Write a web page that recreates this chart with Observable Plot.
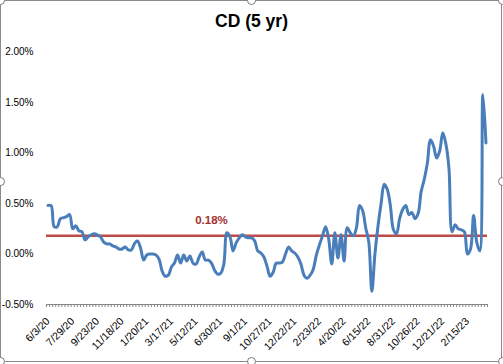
<!DOCTYPE html>
<html>
<head>
<meta charset="utf-8">
<script src="https://cdn.jsdelivr.net/npm/d3@7"></script>
<script src="https://cdn.jsdelivr.net/npm/@observablehq/plot@0.6"></script>
<style>
  html, body { margin: 0; padding: 0; background: #fff; }
  #wrap { position: relative; width: 503px; height: 364px; overflow: hidden; font-family: "Liberation Sans", Arial, sans-serif; }
  #title { position: absolute; left: 0; top: 11px; width: 503px; text-align: center; font-weight: bold; font-size: 17.5px; line-height: 20px; color: #000; }
  #chart { position: absolute; left: 0; top: 36px; }
  #frame { position: absolute; left: 0; top: 0; width: 500px; height: 360px; border: 1px solid #8a8a8a; pointer-events: none; }
  .h { position: absolute; width: 7px; height: 7px; border: 1px solid #7a7a7a; border-radius: 50%; background: #fff; }
</style>
</head>
<body>
<div id="wrap">
  <div id="title">CD (5 yr)</div>
  <div id="chart"></div>
  <div id="frame"></div>
  <div class="h" style="left:-4px;top:-4px"></div>
  <div class="h" style="left:247px;top:-4px"></div>
  <div class="h" style="left:498px;top:-4px"></div>
  <div class="h" style="left:-4px;top:177px"></div>
  <div class="h" style="left:498px;top:177px"></div>
  <div class="h" style="left:-4px;top:357px"></div>
  <div class="h" style="left:247px;top:357px"></div>
  <div class="h" style="left:498px;top:357px"></div>
</div>
<script>
// Weekly CD (5 yr) rate, in percent
const values = [
  0.48,0.48,0.27,0.27,0.35,0.36,0.37,0.39,0.25,0.28,
  0.23,0.22,0.14,0.17,0.19,0.20,0.19,0.17,0.12,0.10,
  0.10,0.08,0.07,0.05,0.05,0.07,0.04,0.04,0.10,0.13,
  0.06,-0.06,-0.01,0.00,0.00,-0.01,-0.05,-0.17,-0.22,-0.21,
  -0.13,-0.09,-0.01,-0.09,-0.01,-0.07,-0.02,-0.09,-0.10,-0.03,
  0.02,-0.06,-0.06,-0.09,-0.16,-0.20,-0.19,-0.10,0.21,0.17,
  0.03,0.11,0.16,0.19,0.17,0.16,0.16,0.13,0.03,0.01,
  -0.03,-0.12,-0.22,-0.18,-0.09,-0.09,-0.08,0.00,0.07,0.03,
  0.01,-0.03,-0.10,-0.21,-0.24,-0.21,-0.15,-0.01,0.09,0.18,
  0.27,0.15,-0.10,0.21,-0.04,0.19,-0.07,0.26,0.21,0.18,
  0.26,0.48,0.43,0.26,0.12,-0.37,0.00,0.28,0.50,0.69,
  0.64,0.48,0.24,0.20,0.35,0.44,0.48,0.39,0.41,0.35,
  0.40,0.62,0.74,0.90,1.13,1.07,0.95,1.02,1.20,1.09,
  0.85,0.22,0.29,0.25,0.24,0.22,0.00,0.05,0.38,0.12,
  0.03,1.58,1.10
];
// Category labels shown every 8th week
const tickLabels = ["6/3/20","7/29/20","9/23/20","11/18/20","1/20/21","3/17/21","5/12/21","6/30/21","9/1/21","10/27/21","12/22/21","2/23/22","4/20/22","6/15/22","8/31/22","10/26/22","12/21/22","2/15/23"];
const labelStep = 8;
const yTicks = [-0.5, 0, 0.5, 1.0, 1.5, 2.0];
const average = [0.18];

const n = values.length;
const data = values.map((v, i) => ({i, v}));
const labelIdx = tickLabels.map((_, k) => k * labelStep);
const boundaries = d3.range(n + 1).map(k => k - 0.5);
const pct = d => d.toFixed(2) + "%";

const chart = Plot.plot({
  width: 503,
  height: 328,
  marginTop: 15.5,
  marginBottom: 60,
  marginLeft: 46,
  marginRight: 16,
  style: {fontFamily: "'Liberation Sans', Arial, sans-serif", background: "transparent"},
  x: {domain: [-0.5, n - 0.5]},
  y: {domain: [-0.5, 2.0]},
  marks: [
    Plot.axisY({ticks: yTicks, tickFormat: pct, tickSize: 0, tickPadding: 13, fontSize: 10, fill: "#000", label: null}),
    Plot.ruleY([-0.5], {stroke: "#868686", strokeWidth: 1}),
    Plot.axisX({ticks: boundaries, tickSize: 3, tickFormat: () => "", stroke: "#868686", label: null}),
    Plot.axisX({ticks: labelIdx, tickFormat: i => tickLabels[i / labelStep], tickSize: 0, tickRotate: -45, tickPadding: 15, textAnchor: "end", fontSize: 10.5, fill: "#000", label: null}),
    Plot.ruleY(average, {stroke: "#BE4B48", strokeWidth: 2.5}),
    Plot.lineY(data, {x: "i", y: "v", stroke: "#4A7EBB", strokeWidth: 3, curve: "catmull-rom"}),
    Plot.text(average, {x: 53, y: d => d, text: pct, dy: -16, fill: "#A5302C", fontWeight: "bold", fontSize: 11.5})
  ]
});
document.getElementById("chart").appendChild(chart);
</script>
</body>
</html>
